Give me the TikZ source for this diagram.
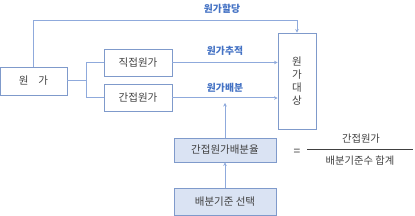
\documentclass[tikz,border=0pt]{standalone}
\usepackage{fontspec}
\setmainfont{Noto Sans CJK KR}
\usetikzlibrary{arrows.meta}
\definecolor{lineblue}{HTML}{8FAADC}
\definecolor{boxline}{HTML}{7F9ACB}
\definecolor{fillblue}{HTML}{DAE3F3}
\definecolor{lblblue}{HTML}{4472C4}
\definecolor{txt}{HTML}{404040}
\tikzset{
  bx/.style={draw=boxline, line width=0.9pt, text=txt, font=\fontsize{10.5}{13}\selectfont, inner sep=0pt},
  fbx/.style={bx, fill=fillblue},
  ln/.style={draw=lineblue, line width=1pt},
  arr/.style={ln, -{Stealth[length=3.5pt,width=3.5pt]}},
  lbl/.style={text=lblblue, font=\fontsize{9.8}{11}\selectfont\bfseries, inner sep=0pt},
  plain/.style={text=txt, font=\fontsize{10.3}{12}\selectfont, inner sep=0pt}
}
\begin{document}
\begin{tikzpicture}[x=1pt,y=-1pt]
\useasboundingbox (0,0) rectangle (415,216);
\node[bx, minimum width=67pt, minimum height=28pt] (cost) at (33.5,81) {원\hspace{10pt}가};
\node[bx, minimum width=68pt, minimum height=27pt] (direct) at (138,62.5) {직접원가};
\node[bx, minimum width=68pt, minimum height=27pt] (indirect) at (138,98) {간접원가};
\node[bx, minimum width=38pt, minimum height=96pt, align=center] (obj) at (297,81) {원\\가\\대\\상};
\node[fbx, minimum width=102pt, minimum height=24pt] (rate) at (225,150) {간접원가배분율};
\node[fbx, minimum width=102pt, minimum height=27pt] (base) at (225,201.5) {배분기준 선택};
\node[plain, font=\fontsize{12}{12}\selectfont] (eq) at (297,152) {=};
\node[plain] (num) at (361,139) {간접원가};
\node[plain] (den) at (360,161) {배분기준수 합계};
\coordinate (fl) at (307,149);
\coordinate (fr) at (413,149);
\draw[draw=txt, line width=0.6pt] (fl) -- (fr);
% connectors
\coordinate (split) at (86,81);
\draw[ln] (cost.east) -- (split);
\draw[ln] (split) |- (direct.west);
\draw[ln] (split) |- (indirect.west);
\coordinate (topl) at (33,21);
\coordinate (topr) at (297,21);
\draw[arr] (cost.north -| topl) -- (topl) -- (topr) -- (obj.north);
\draw[arr] (direct.east) -- (direct.east -| obj.west);
\draw[arr] (indirect.east) -- (indirect.east -| obj.west);
\coordinate (rtip) at (225,103);
\draw[arr] (rate.north) -- (rtip);
\draw[arr] (base.north) -- (rate.south);
\node[lbl] (l1) at (222,9) {원가할당};
\node[lbl] (l2) at (225,51) {원가추적};
\node[lbl] (l3) at (225,88) {원가배분};
\end{tikzpicture}
\end{document}
